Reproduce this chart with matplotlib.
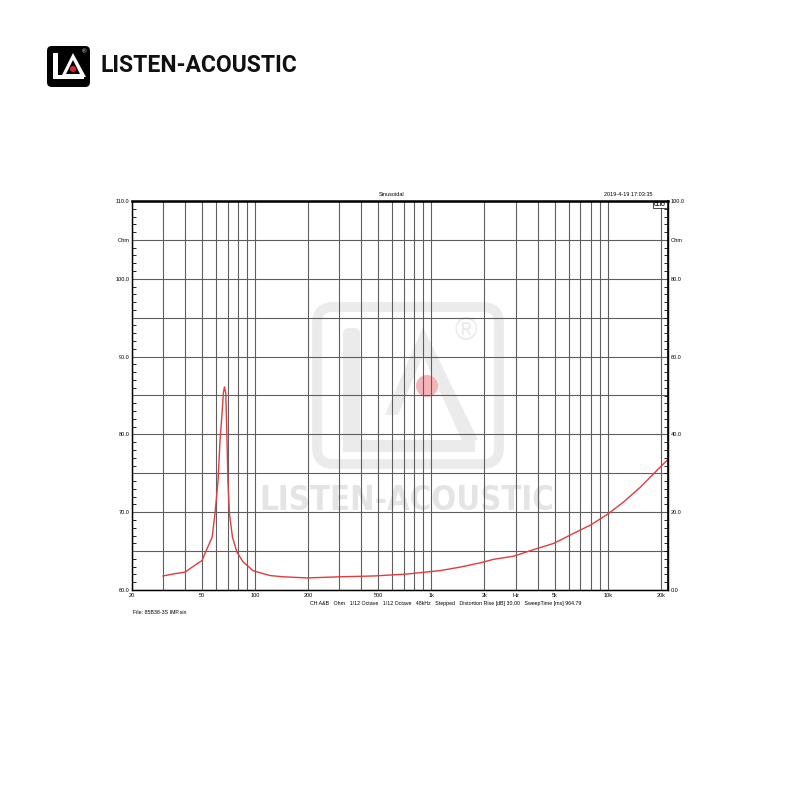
import numpy as np
import matplotlib.pyplot as plt
from matplotlib.patches import FancyBboxPatch, Rectangle, Polygon, Circle
from matplotlib.ticker import MultipleLocator

# impedance curve (Hz, Ohm)
freq = [30, 35, 40, 45.6, 50, 52, 57, 59.2, 61.6, 63.2, 64.9, 66.0, 66.9, 68.1,
        69.0, 70.0, 71.4, 74.3, 78.7, 85.4, 89.7, 97, 107, 122, 144, 197, 303,
        468, 728, 1125, 1462, 1898, 2260, 2935, 3812, 4952, 6432, 8000, 10000,
        12370, 15390, 18320, 21800]
ohm = [3.6, 4.2, 4.6, 6.4, 7.6, 9.5, 13.6, 19.8, 28.3, 38.6, 45.5, 50.6, 52.2, 50.6,
       41.1, 28.3, 19.8, 13.6, 9.8, 7.2, 6.4, 5.0, 4.4, 3.7, 3.4, 3.1, 3.4,
       3.6, 4.1, 5.0, 5.9, 7.0, 7.9, 8.7, 10.4, 12.0, 14.6, 16.7, 19.5,
       22.7, 26.5, 30.0, 33.4]

grid_freqs = [20, 30, 40, 50, 60, 70, 80, 90, 100, 200, 300, 400, 500, 600, 700,
              800, 900, 1000, 2000, 3000, 4000, 5000, 6000, 7000, 8000, 9000,
              10000, 20000]
x_labels = {20: '20', 50: '50', 100: '100', 200: '200', 500: '500', 1000: '1k',
            2000: '2k', 3000: 'Hz', 5000: '5k', 10000: '10k', 20000: '20k'}
left_ticks = [60, 65, 70, 75, 80, 85, 90, 95, 100, 105, 110]
left_labels = ['60.0', '', '70.0', '', '80.0', '', '90.0', '', '100.0', 'Ohm', '110.0']
right_ticks = [0, 20, 40, 60, 80, 90, 100]
right_labels = ['0.0', '20.0', '40.0', '60.0', '80.0', 'Ohm', '100.0']

plt.rcParams['font.family'] = ['Liberation Sans', 'DejaVu Sans']

W = H = 800.0
fig = plt.figure(figsize=(8, 8), dpi=100)


def fx(x, y):
    return (x / W, 1 - y / H)


def fw(w):
    return w / W


# ---- logo top left ----
bx, by = fx(47, 87)
fig.patches.append(FancyBboxPatch((bx, by), fw(43), fw(41), boxstyle='round,pad=0,rounding_size=0.006',
                                  transform=fig.transFigure, facecolor='black', edgecolor='none'))
x0, y0 = fx(53, 79)
fig.patches.append(Rectangle((x0, y0), fw(5), fw(26), transform=fig.transFigure, facecolor='white'))
fig.patches.append(Rectangle((x0, y0), fw(31), fw(4), transform=fig.transFigure, facecolor='white'))
fig.patches.append(Polygon([fx(73, 53), fx(61, 77), fx(86, 77)], closed=True, transform=fig.transFigure,
                           facecolor='white', edgecolor='none'))
fig.patches.append(Polygon([fx(73, 60), fx(66, 74), fx(80, 74)], closed=True, transform=fig.transFigure,
                           facecolor='black', edgecolor='none'))
fig.patches.append(Circle(fx(73, 69), fw(3), transform=fig.transFigure, facecolor='#e0202a'))
fig.text(*fx(84, 52), '®', fontsize=4.5, color='white', ha='center', va='center')
fig.text(*fx(100, 66), 'LISTEN-ACOUSTIC', fontsize=16.5, fontweight='bold',
         family=['Roboto', 'DejaVu Sans'], ha='left', va='center', color='#111111')

# ---- watermark ----
wm = '#ebebeb'
rx, ry = fx(317, 464)
fig.patches.append(FancyBboxPatch((rx, ry), fw(182), fw(157), boxstyle='round,pad=0,rounding_size=0.02',
                                  transform=fig.transFigure, facecolor='none', edgecolor=wm, linewidth=7,
                                  zorder=-1))
lx, ly = fx(343, 452)
fig.patches.append(FancyBboxPatch((lx, ly), fw(17), fw(124), boxstyle='round,pad=0,rounding_size=0.008',
                                  transform=fig.transFigure, facecolor=wm, edgecolor='none', zorder=-1))
fig.patches.append(Rectangle(fx(343, 452), fw(132), fw(12), transform=fig.transFigure,
                             facecolor=wm, edgecolor='none', zorder=-1))
fig.patches.append(Polygon([fx(423, 327), fx(385, 415), fx(398, 415), fx(423, 355), fx(462, 440), fx(478, 440)],
                           closed=True, transform=fig.transFigure, facecolor=wm, edgecolor='none', zorder=-1))
fig.patches.append(Circle(fx(427, 386), fw(11), transform=fig.transFigure, facecolor='#f4b4ba',
                          edgecolor='none', zorder=-1))
fig.text(*fx(466, 332), '®', fontsize=22, color=wm, ha='center', va='center', zorder=-1)
fig.text(*fx(407, 500), 'LISTEN-ACOUSTIC', fontsize=23.5, fontweight='bold', fontstretch='condensed',
         color='#e4e4e4', family=['DejaVu Sans'], ha='center', va='center', zorder=-1)

# ---- chart ----
ax = fig.add_axes([132 / W, 1 - 590 / H, 536 / W, 389 / H])
ax.patch.set_alpha(0)
ax.set_xscale('log')
ax.set_xlim(20, 22000)
ax.set_ylim(60, 110)
ax.set_xticks(grid_freqs)
ax.set_xticklabels([x_labels.get(f, '') for f in grid_freqs])
ax.xaxis.set_minor_locator(plt.NullLocator())
ax.set_yticks(left_ticks)
ax.set_yticklabels(left_labels)
ax.yaxis.set_minor_locator(MultipleLocator(1))
ax.grid(True, which='major', color='#5e5e5e', linewidth=0.8)
ax.tick_params(axis='both', which='major', length=0, labelsize=4, pad=2)
ax.tick_params(axis='y', which='minor', direction='in', length=3, width=0.6)
for s in ax.spines.values():
    s.set_color('black')
    s.set_linewidth(1.0)
ax.spines['top'].set_linewidth(1.8)

ax2 = ax.twinx()
ax2.set_ylim(0, 100)
ax2.set_yticks(right_ticks)
ax2.set_yticklabels(right_labels)
ax2.yaxis.set_minor_locator(MultipleLocator(2))
ax2.tick_params(axis='y', which='major', length=0, labelsize=4, pad=2)
ax2.tick_params(axis='y', which='minor', direction='in', length=3, width=0.6)
ax2.spines['right'].set_linewidth(1.2)
ax2.plot(freq, ohm, color='#e23b3b', linewidth=1.0)

# header / footer texts
fig.text(*fx(392, 194), 'Sinusoidal', fontsize=4, ha='center', va='center')
fig.text(*fx(652, 194), '2019-4-19 17:03:35', fontsize=4, ha='right', va='center')
fig.text(*fx(660, 205), 'CLIO', fontsize=3.5, fontweight='bold', ha='center', va='center',
         bbox=dict(boxstyle='square,pad=0.15', facecolor='white', edgecolor='black', linewidth=0.5))
fig.text(*fx(310, 604), 'CH A&B   Ohm   1/12 Octave   1/12 Octave   48kHz   Stepped   '
         'Distortion Rise [dB] 30.00   SweepTime [ms] 964.79', fontsize=3.8, ha='left', va='center')
fig.text(*fx(133, 612), 'File: 85B38-3S IMP.sin', fontsize=3.8, ha='left', va='center')

fig.savefig('out.png', dpi=100)
